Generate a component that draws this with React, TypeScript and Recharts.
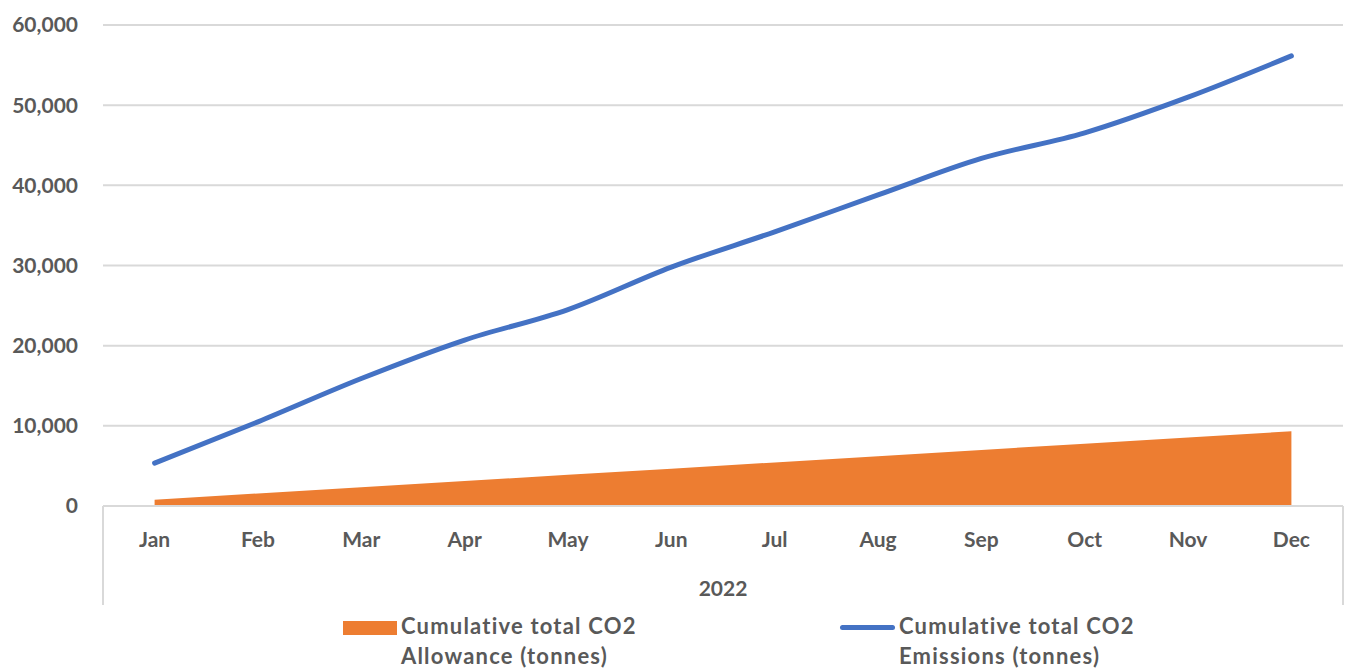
import React from "react";
import {
  ComposedChart,
  Area,
  Line,
  XAxis,
  YAxis,
  CartesianGrid,
  Legend,
} from "recharts";

const months = ["Jan", "Feb", "Mar", "Apr", "May", "Jun", "Jul", "Aug", "Sep", "Oct", "Nov", "Dec"];
const allowance = [780, 1560, 2330, 3110, 3890, 4660, 5440, 6220, 6990, 7770, 8550, 9320];
const emissions = [5350, 10500, 15900, 20700, 24500, 29800, 34200, 38800, 43350, 46550, 51000, 56150];
const yTicks = [0, 10000, 20000, 30000, 40000, 50000, 60000];
const yearLabel = "2022";

const data = months.map((m, i) => ({
  month: m,
  allowance: allowance[i],
  emissions: emissions[i],
}));

const FONT = "Lato, 'Noto Sans', sans-serif";
const TEXT = "#595959";
const GRID = "#d9d9d9";
const ORANGE = "#ED7D31";
const BLUE = "#4472C4";
const PAD = 51.6; // half a category band
const TICK_GAP = 26;
const AXIS_H = 100;

// month tick, plus the category box edges at first/last month
function MonthTick(props: any) {
  const { x, y, payload, index } = props;
  const top = y - TICK_GAP;
  return (
    <g>
      <text
        x={x}
        y={y}
        dy="0.71em"
        textAnchor="middle"
        fill={TEXT}
        fontSize={21}
        fontFamily={FONT}
        fontWeight={700}
      >
        {payload.value}
      </text>
      {index === 0 && (
        <line x1={x - PAD} x2={x - PAD} y1={top} y2={top + AXIS_H - 1} stroke={GRID} strokeWidth={2} />
      )}
      {index === months.length - 1 && (
        <line x1={x + PAD} x2={x + PAD} y1={top} y2={top + AXIS_H - 1} stroke={GRID} strokeWidth={2} />
      )}
    </g>
  );
}

function LegendContent() {
  const textStyle: React.CSSProperties = {
    fontFamily: FONT,
    fontSize: 22,
    fontWeight: 700,
    color: TEXT,
    lineHeight: "30px",
    letterSpacing: "1.2px",
  };
  return (
    <div style={{ display: "flex", paddingLeft: 343, paddingTop: 5 }}>
      <div style={{ display: "flex", alignItems: "flex-start", width: 497 }}>
        <div style={{ width: 54, height: 14, background: ORANGE, marginTop: 10, marginRight: 4 }} />
        <div style={textStyle}>
          Cumulative total CO2
          <br />
          Allowance (tonnes)
        </div>
      </div>
      <div style={{ display: "flex", alignItems: "flex-start" }}>
        <div style={{ width: 55, height: 5, background: BLUE, borderRadius: 3, marginTop: 14, marginRight: 4 }} />
        <div style={textStyle}>
          Cumulative total CO2
          <br />
          Emissions (tonnes)
        </div>
      </div>
    </div>
  );
}

export default function App() {
  return (
    <div style={{ position: "fixed", left: 0, top: 0, background: "#fff" }}>
      <ComposedChart
        width={1347}
        height={671}
        data={data}
        margin={{ top: 25, right: 4, left: 0, bottom: 0 }}
        style={{ fontFamily: FONT }}
      >
        <CartesianGrid vertical={false} stroke={GRID} strokeWidth={2} />
        <XAxis
          dataKey="month"
          scale="point"
          padding={{ left: PAD, right: PAD }}
          height={AXIS_H}
          axisLine={{ stroke: GRID, strokeWidth: 2 }}
          tickLine={false}
          tickSize={0}
          tickMargin={TICK_GAP}
          tick={<MonthTick />}
          interval={0}
          label={{
            value: yearLabel,
            position: "insideBottom",
            offset: 10,
            fill: TEXT,
            fontSize: 21,
            fontWeight: 700,
            fontFamily: FONT,
          }}
        />
        <YAxis
          width={103}
          domain={[0, 60000]}
          ticks={yTicks}
          axisLine={false}
          tickLine={false}
          tickSize={0}
          tickMargin={25}
          tickFormatter={(v: number) => v.toLocaleString("en-US")}
          tick={{ fill: TEXT, fontSize: 21, fontWeight: 700, fontFamily: FONT }}
        />
        <Legend verticalAlign="bottom" height={65} content={<LegendContent />} />
        <Area
          dataKey="allowance"
          type="linear"
          fill={ORANGE}
          fillOpacity={1}
          stroke="none"
          isAnimationActive={false}
        />
        <Line
          dataKey="emissions"
          type="monotone"
          stroke={BLUE}
          strokeWidth={5}
          strokeLinecap="round"
          dot={false}
          activeDot={false}
          isAnimationActive={false}
        />
      </ComposedChart>
    </div>
  );
}
